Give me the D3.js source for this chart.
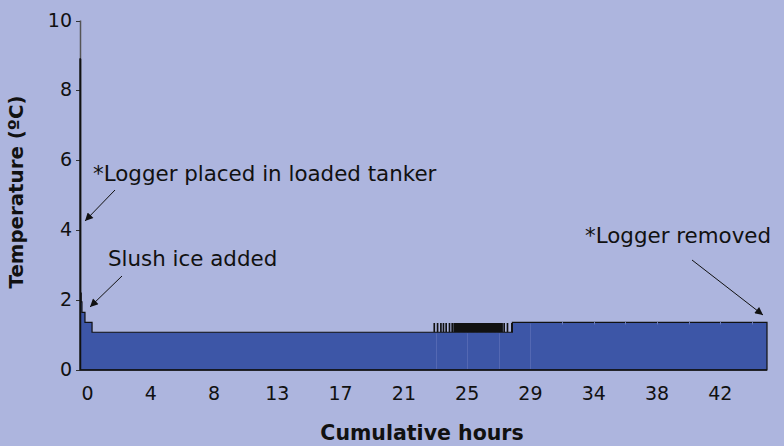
<!DOCTYPE html>
<html>
<head>
<meta charset="utf-8">
<script src="https://cdn.jsdelivr.net/npm/d3@7/dist/d3.min.js"></script>
<style>
  html, body { margin: 0; padding: 0; background: #adb5de; }
  svg { display: block; }
  text { font-family: "DejaVu Sans", "Open Sans", sans-serif; fill: #111; }
</style>
</head>
<body>
<svg id="chart" width="784" height="446"></svg>
<script>
// ---- data ----
const stepHours = [0, 0.03, 0.08, 0.13, 0.33, 0.8, 28.7, 45.6];
const stepTemps = [8.9, 2.2, 1.95, 1.65, 1.36, 1.08, 1.36, 1.36];
const spikeHours = [23.5, 23.72, 23.94, 24.11, 24.29, 24.51, 24.69, 24.82,
  24.92, 25.01, 25.1, 25.18, 25.27, 25.35, 25.44, 25.52, 25.6, 25.7, 25.78,
  25.87, 25.95, 26.04, 26.12, 26.2, 26.3, 26.38, 26.47, 26.55, 26.64, 26.72,
  26.8, 26.9, 26.98, 27.07, 27.15, 27.24, 27.32, 27.4, 27.5, 27.58, 27.67,
  27.75, 27.84, 27.92, 28.0, 28.14, 28.36, 28.65];
const spikeTemp = 1.33;
const xTickHours = [0.5, 4.7, 8.9, 13.1, 17.3, 21.5, 25.7, 29.9, 34.1, 38.3, 42.5];
const xTickLabels = ["0", "4", "8", "13", "17", "21", "25", "29", "34", "38", "42"];
const yTicks = [0, 2, 4, 6, 8, 10];
const xTitle = "Cumulative hours";
const yTitle = "Temperature (ºC)";

// ---- build point list ----
function tempAt(h) {
  let t = stepTemps[0];
  for (let i = 0; i < stepHours.length; i++) if (stepHours[i] <= h) t = stepTemps[i];
  return t;
}
let pts = stepHours.map((h, i) => ({ h, t: stepTemps[i] }));
spikeHours.forEach(h => {
  const base = tempAt(h);
  pts.push({ h, t: spikeTemp });
  pts.push({ h: h + 0.03, t: base });
});
pts.sort((a, b) => a.h - b.h);

const svg = d3.select("#chart");
const x = d3.scaleLinear().domain([0, 45.6]).range([80, 767]);
const y = d3.scaleLinear().domain([0, 10]).range([370, 20.5]);

// y axis (drawn beneath the series)
const yAxis = svg.append("g");
yAxis.append("line")
  .attr("x1", 80.5).attr("x2", 80.5)
  .attr("y1", y(10)).attr("y2", y(0))
  .attr("stroke", "#555").attr("stroke-width", 1.5);
yAxis.selectAll(".tk").data(yTicks).join("line")
  .attr("x1", 76).attr("x2", 80)
  .attr("y1", d => Math.round(y(d)) + 0.5).attr("y2", d => Math.round(y(d)) + 0.5)
  .attr("stroke", "#333").attr("stroke-width", 1);
yAxis.selectAll("text").data(yTicks).join("text")
  .attr("x", 72).attr("y", d => y(d) + 6)
  .attr("text-anchor", "end")
  .attr("font-size", 19)
  .text(d => d);

// area
const area = d3.area().curve(d3.curveStepAfter)
  .x(d => x(d.h)).y0(y(0)).y1(d => y(d.t));
svg.append("path").datum(pts)
  .attr("d", area)
  .attr("fill", "#3d56a7")
  .attr("stroke", "#111")
  .attr("stroke-width", 1.2);

// faint seams inside the area (rendering artefacts in the original)
const seamHours = [];
for (let i = 0; i < xTickHours.length - 1; i++) {
  seamHours.push(xTickHours[i]);
  seamHours.push((xTickHours[i] + xTickHours[i + 1]) / 2);
}
seamHours.push(xTickHours[xTickHours.length - 1]);
seamHours.push(xTickHours[xTickHours.length - 1] + 2.1);
svg.append("g").selectAll("line")
  .data(seamHours.filter(h => h > 23 && h < 45.5))
  .join("line")
  .attr("x1", d => Math.round(x(d)) + 0.5).attr("x2", d => Math.round(x(d)) + 0.5)
  .attr("y1", d => d < 30.5 ? y(tempAt(d)) + 1 : y(tempAt(d)) - 0.5)
  .attr("y2", d => d < 30.5 ? y(0) - 1 : y(tempAt(d)) + 2)
  .attr("stroke", d => d < 30.5 ? "#5468b3" : "#6b7ab8")
  .attr("stroke-width", 1);

// x axis
svg.append("line")
  .attr("x1", 80).attr("x2", x(45.6))
  .attr("y1", 370).attr("y2", 370)
  .attr("stroke", "#111").attr("stroke-width", 1.5);
svg.append("line")
  .attr("x1", 80.5).attr("x2", 80.5)
  .attr("y1", y(8.9)).attr("y2", y(0))
  .attr("stroke", "#111").attr("stroke-width", 1.5);
svg.append("g").selectAll("text").data(xTickHours).join("text")
  .attr("x", d => x(d)).attr("y", 400)
  .attr("text-anchor", "middle")
  .attr("font-size", 19)
  .text((d, i) => xTickLabels[i]);

// titles
svg.append("text")
  .attr("x", 422).attr("y", 440)
  .attr("text-anchor", "middle")
  .attr("font-size", 20.5).attr("font-weight", "bold")
  .text(xTitle);
svg.append("text")
  .attr("transform", "translate(23,192) rotate(-90)")
  .attr("text-anchor", "middle")
  .attr("font-size", 19.8).attr("font-weight", "bold")
  .text(yTitle);

// annotations
const defs = svg.append("defs");
defs.append("marker")
  .attr("id", "arr").attr("viewBox", "0 0 10 10")
  .attr("refX", 10).attr("refY", 5)
  .attr("markerWidth", 10).attr("markerHeight", 8)
  .attr("markerUnits", "userSpaceOnUse")
  .attr("orient", "auto")
  .append("path").attr("d", "M0,0 L10,5 L0,10 Z").attr("fill", "#111");

const notes = [
  { text: "*Logger placed in loaded tanker", tx: 93, ty: 181, x1: 115, y1: 190, x2: 85, y2: 221 },
  { text: "Slush ice added", tx: 108, ty: 266, x1: 122, y1: 276, x2: 90, y2: 307 },
  { text: "*Logger removed", tx: 585, ty: 243, x1: 692, y1: 260, x2: 763, y2: 315 }
];
notes.forEach(n => {
  svg.append("text").attr("x", n.tx).attr("y", n.ty)
    .attr("font-size", 21.4).text(n.text);
  svg.append("line")
    .attr("x1", n.x1).attr("y1", n.y1).attr("x2", n.x2).attr("y2", n.y2)
    .attr("stroke", "#111").attr("stroke-width", 1)
    .attr("marker-end", "url(#arr)");
});
</script>
</body>
</html>
